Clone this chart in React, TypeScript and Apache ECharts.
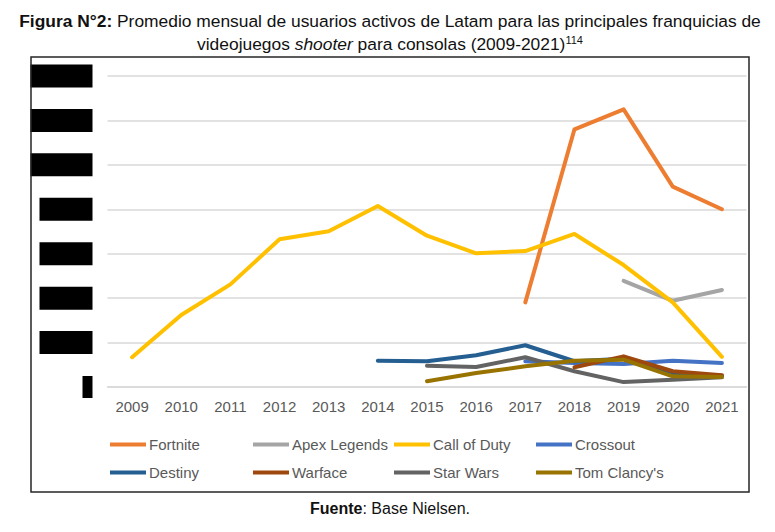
import React, { useEffect, useRef } from "react";
import * as echarts from "echarts";

const years = ["2009", "2010", "2011", "2012", "2013", "2014", "2015", "2016", "2017", "2018", "2019", "2020", "2021"];
const seriesNames = ["Fortnite", "Apex Legends", "Call of Duty", "Crossout", "Destiny", "Warface", "Star Wars", "Tom Clancy's"];
const seriesColors = ["#ED7D31", "#A5A5A5", "#FFC000", "#4472C4", "#255E91", "#9E480E", "#636363", "#997300"];

const fortnite = [null, null, null, null, null, null, null, null, 381000, 1160000, 1250000, 902000, 800000];
const apexLegends = [null, null, null, null, null, null, null, null, null, null, 478000, 388000, 437000];
const callOfDuty = [134000, 324000, 462000, 665000, 701000, 815000, 681000, 602000, 612000, 689000, 549000, 381000, 136000];
const crossout = [null, null, null, null, null, null, null, null, 116000, 108000, 104000, 118000, 108000];
const destiny = [null, null, null, null, null, 118000, 116000, 143000, 188000, 116000, 127000, 63000, 51000];
const warface = [null, null, null, null, null, null, null, null, null, 89000, 138000, 71000, 53000];
const starWars = [null, null, null, null, null, null, 96000, 90000, 134000, 71000, 22000, 33000, 44000];
const tomClancys = [null, null, null, null, null, null, 26000, 63000, 93000, 118000, 123000, 48000, 45000];

const allSeries = [fortnite, apexLegends, callOfDuty, crossout, destiny, warface, starWars, tomClancys];

const yMax = 1400000;
const yStep = 200000;

const legendCols = [110, 253, 394, 536];
const legendRows = [437, 465];

const FONT = "'Liberation Sans', Arial, sans-serif";

export default function App() {
  const ref = useRef<HTMLDivElement>(null);

  useEffect(() => {
    if (!ref.current) return;
    const chart = echarts.init(ref.current, null, { renderer: "svg" });

    const fmt = (v: number) => String(v).replace(/\B(?=(\d{3})+(?!\d))/g, ".");

    const legends = seriesNames.map((name, i) => ({
      data: [name],
      left: legendCols[i % 4],
      top: legendRows[Math.floor(i / 4)],
      padding: 0,
      icon: "rect",
      itemWidth: 36,
      itemHeight: 4,
      itemGap: 3,
      selectedMode: false,
      textStyle: { color: "#595959", fontSize: 15, fontFamily: FONT, padding: [0, 0, 0, -2] },
    }));

    const option: any = {
      animation: false,
      backgroundColor: "#ffffff",
      grid: { left: 107.5, right: 28.5, top: 76, bottom: 145, containLabel: false },
      xAxis: {
        type: "category",
        data: years,
        boundaryGap: true,
        axisLine: { show: true, lineStyle: { color: "#D9D9D9", width: 1.5 } },
        axisTick: { show: false },
        axisLabel: { color: "#595959", fontSize: 15, fontFamily: FONT, margin: 12 },
        splitLine: { show: false },
      },
      yAxis: {
        type: "value",
        min: 0,
        max: yMax,
        interval: yStep,
        axisLine: { show: false },
        axisTick: { show: false },
        splitLine: { show: true, lineStyle: { color: "#D9D9D9", width: 1.5 } },
        axisLabel: {
          margin: 15,
          formatter: (v: number) => {
            const key = v === 0 ? "s" : v >= 1000000 ? "b" : "m";
            return `{${key}|${fmt(v)}}`;
          },
          rich: {
            b: { width: 62, height: 23, backgroundColor: "#000", color: "#000", fontSize: 9, align: "center" },
            m: { width: 53, height: 23, backgroundColor: "#000", color: "#000", fontSize: 9, align: "center" },
            s: { width: 10, height: 22, backgroundColor: "#000", color: "#000", fontSize: 9, align: "center" },
          },
        },
      },
      legend: legends,
      series: seriesNames.map((name, i) => ({
        name,
        type: "line",
        data: allSeries[i],
        showSymbol: false,
        symbol: "none",
        connectNulls: false,
        color: seriesColors[i],
        lineStyle: { width: 4, color: seriesColors[i], cap: "round", join: "round" },
        z: 2 + i,
      })),
      graphic: [
        {
          type: "rect",
          shape: { x: 31, y: 57, width: 718, height: 435 },
          style: { fill: "none", stroke: "#262626", lineWidth: 1.5 },
          silent: true,
          z: 100,
        },
        {
          type: "text",
          x: 390,
          y: 21,
          style: {
            text: "{b|Figura N°2:} Promedio mensual de usuarios activos de Latam para las principales franquicias de",
            fill: "#111",
            fontSize: 17.4,
            fontFamily: FONT,
            align: "center",
            verticalAlign: "middle",
            rich: { b: { fontWeight: "bold", fontSize: 17.4, fontFamily: FONT, fill: "#111" } },
          },
        },
        {
          type: "text",
          x: 390,
          y: 44,
          style: {
            text: "videojuegos {i|shooter} para consolas (2009-2021){s|114}",
            fill: "#111",
            fontSize: 17.4,
            fontFamily: FONT,
            align: "center",
            verticalAlign: "middle",
            rich: {
              i: { fontStyle: "italic", fontSize: 17.4, fontFamily: FONT, fill: "#111" },
              s: { fontSize: 11, fontFamily: FONT, fill: "#111", verticalAlign: "top", padding: [0, 0, 8, 0] },
            },
          },
        },
        {
          type: "text",
          x: 390,
          y: 508,
          style: {
            text: "{b|Fuente}: Base Nielsen.",
            fill: "#111",
            fontSize: 16,
            fontFamily: FONT,
            align: "center",
            verticalAlign: "middle",
            rich: { b: { fontWeight: "bold", fontSize: 16, fontFamily: FONT, fill: "#111" } },
          },
        },
      ],
    };

    chart.setOption(option);
    return () => chart.dispose();
  }, []);

  return <div ref={ref} style={{ position: "fixed", left: 0, top: 0, width: 775, height: 532 }} />;
}
